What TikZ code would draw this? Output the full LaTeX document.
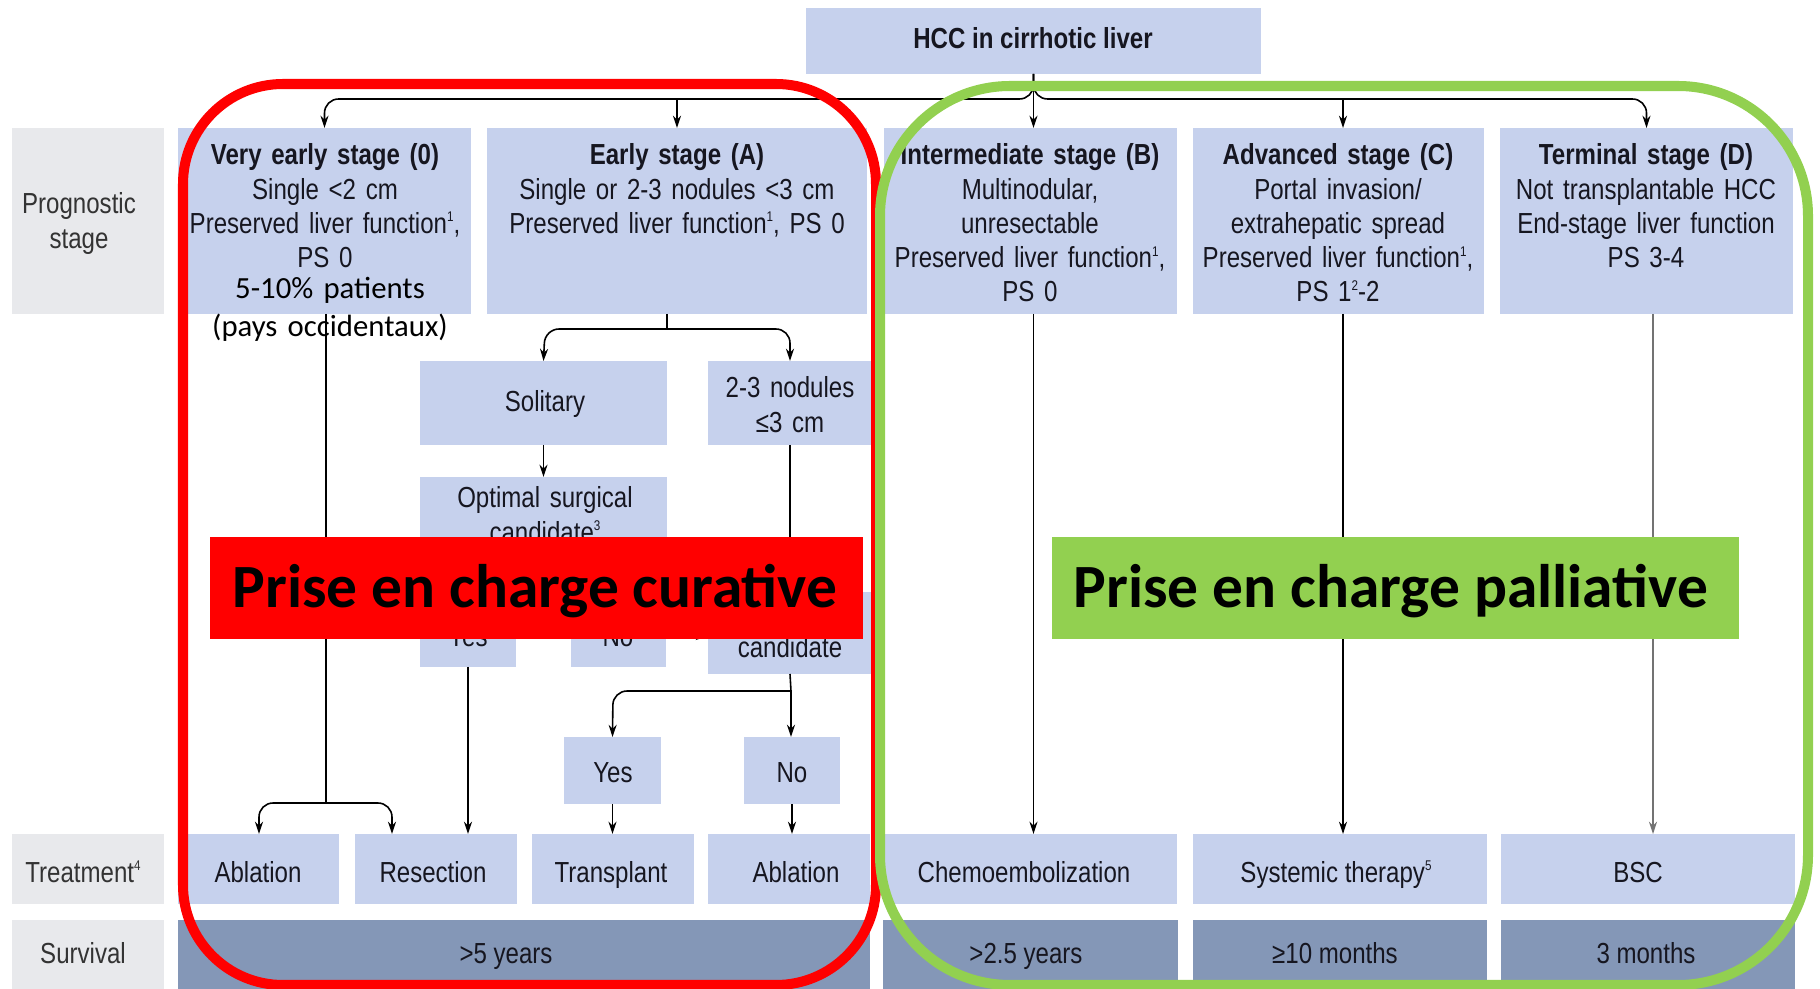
\documentclass[tikz,border=0pt]{standalone}
\usepackage{fontspec}
\setmainfont{Liberation Sans}[FakeStretch=0.83]
\newfontfamily\calib{Carlito}
\usetikzlibrary{arrows.meta,fit,calc}
\definecolor{lbfill}{RGB}{198,209,237}
\definecolor{svfill}{RGB}{132,151,183}
\definecolor{gyfill}{RGB}{232,233,236}
\definecolor{grn}{RGB}{146,208,80}
\definecolor{txtc}{RGB}{22,22,32}
\newcommand\fsA{\fontsize{16.5}{19.45}\selectfont}
\newcommand\sups[1]{\raisebox{0.75ex}{\fontsize{8}{8}\selectfont #1}}
\begin{document}
\begin{tikzpicture}[x=0.02cm,y=-0.02cm,
  lb/.style={fill=lbfill,inner sep=0pt,outer sep=0pt},
  sv/.style={fill=svfill,inner sep=0pt,outer sep=0pt},
  gy/.style={fill=gyfill,inner sep=0pt,outer sep=0pt},
  tx/.style={inner sep=0pt,outer sep=0pt,font=\fsA,text=txtc,align=center,anchor=base},
  ml/.style={tx,text width=9cm},
  gtx/.style={tx,text=black!80},
  ln/.style={draw=black,line width=0.9pt},
  arr/.style={ln,-{Stealth[length=7pt,width=4.6pt]}},
  rc/.style={rounded corners=8pt},
  bigtx/.style={inner sep=0pt,outer sep=0pt,font=\calib\bfseries\fontsize{35}{40}\selectfont,anchor=base,text=black},
  zone/.style={inner sep=0pt,outer sep=0pt,line width=5.7pt},
]
\fill[white] (0,0) rectangle (1820,989);
\useasboundingbox (0,0) rectangle (1820,989);

% ---------- left column ----------
\node[gy,fit={(12,128) (164,314)}] (gprog) {};
\node[gy,fit={(12,834) (164,904)}] (gtreat) {};
\node[gy,fit={(12,920) (164,989)}] (gsurv) {};
\node[gtx,text width=3cm] (tprog) at (79,214) {Prognostic\\stage};
\node[gtx] (ttreat) at (83,882) {Treatment\sups{4}};
\node[gtx] (tsurv) at (83,963) {Survival};

% ---------- top ----------
\node[lb,fit={(806,8) (1261,74)}] (hcc) {};
\node[tx] (thcc) at (1033,49) {\textbf{HCC in cirrhotic liver}};

% ---------- stage boxes ----------
\node[lb,fit={(178,128) (471,314)}] (ve) {};
\node[lb,fit={(487,128) (867,314)}] (ea) {};
\node[lb,fit={(884,128) (1177,314)}] (im) {};
\node[lb,fit={(1193,128) (1484,314)}] (ad) {};
\node[lb,fit={(1500,128) (1793,314)}] (te) {};

% ---------- sub boxes ----------
\node[lb,fit={(420,361) (667,445)}] (sol) {};
\node[lb,fit={(708,361) (872,445)}] (nod) {};
\node[lb,fit={(420,477) (667,582)}] (opt) {};
\node[lb,fit={(420,605) (516,667)}] (yes1) {};
\node[lb,fit={(571,605) (666,667)}] (no1) {};
\node[lb,fit={(708,592) (872,674)}] (cand) {};
\node[lb,fit={(564,737) (661,804)}] (yes2) {};
\node[lb,fit={(744,737) (840,804)}] (no2) {};

% ---------- treatment ----------
\node[lb,fit={(178,834) (339,904)}] (abl1) {};
\node[lb,fit={(355,834) (517,904)}] (res) {};
\node[lb,fit={(532,834) (694,904)}] (tra) {};
\node[lb,fit={(708,834) (870,904)}] (abl2) {};
\node[lb,fit={(884,834) (1177,904)}] (che) {};
\node[lb,fit={(1193,834) (1487,904)}] (sys) {};
\node[lb,fit={(1501,834) (1795,904)}] (bsc) {};

% ---------- survival ----------
\node[sv,fit={(178,920) (870,989)}] (s1) {};
\node[sv,fit={(883,920) (1178,989)}] (s2) {};
\node[sv,fit={(1193,920) (1487,989)}] (s3) {};
\node[sv,fit={(1501,920) (1795,989)}] (s4) {};

% ---------- helper coordinates ----------
\coordinate (bus) at (0,99);
\coordinate (xve) at (326,0);
\coordinate (xab1) at (259,0);
\coordinate (xres) at (392,0);
\coordinate (xea) at (667,0);
\coordinate (xte) at (1653,0);
\coordinate (xad) at (1343,0);
\coordinate (j1) at (326,803);
\coordinate (j2) at (667,329);
\coordinate (j3) at (545,592);
\coordinate (j4) at (791,691);

% ---------- connectors ----------
\draw[arr,rc] (hcc.south) -- (hcc.south |- bus) -- (bus -| ve.north) -- (ve.north);
\draw[arr,rc] (hcc.south) -- (hcc.south |- bus) -- (bus -| te.north) -- (te.north);
\draw[arr] (hcc.south) -- (hcc.south |- im.north);
\draw[arr] (bus -| ea.north) -- (ea.north);
\draw[arr] (bus -| xad) -- (ad.north -| xad);

\draw[ln] (ve.south -| xve) -- (j1);
\draw[arr,rc] (j1) -- (259,803) -- (abl1.north -| xab1);
\draw[arr,rc] (j1) -- (392,803) -- (res.north -| xres);

\draw[ln] (ea.south -| xea) -- (j2);
\draw[arr,rc] (j2) -- (545,329) -- (sol.north);
\draw[arr,rc] (j2) -- (790,329) -- (nod.north);
\draw[arr] (sol.south) -- (opt.north);
\draw[ln] (opt.south) -- (j3);
\draw[arr,rc] (j3) -- (468,592) -- (yes1.north);
\draw[arr,rc] (j3) -- (618,592) -- (no1.north);
\draw[arr] (yes1.south) -- (yes1.south |- res.north);
\draw[arr] (no1.east) -- (no1.east -| cand.west);
\draw[arr] (nod.south) -- (cand.north);
\draw[ln] (cand.south) -- (j4);
\draw[arr,rc] (j4) -- (613,691) -- (yes2.north);
\draw[arr] (j4) -- (no2.north -| j4);
\draw[arr] (yes2.south) -- (yes2.south |- tra.north);
\draw[arr] (no2.south) -- (no2.south |- abl2.north);

\draw[arr] (hcc.south |- im.south) -- (hcc.south |- che.north);
\draw[arr] (xad |- ad.south) -- (xad |- sys.north);
\draw[arr,draw=black!55] (xte |- te.south) -- (xte |- bsc.north);

% ---------- texts ----------
\node[ml] (tve) at (325,165) {\textbf{Very early stage (0)}\\Single <2 cm\\Preserved liver function\sups{1},\\PS 0};
\node[tx,font=\calib\fontsize{17.5}{21.6}\selectfont,text=black,text width=6cm] (tvep) at (330,299) {5-10\% patients\\(pays occidentaux)};
\node[ml] (tea) at (677,165) {\textbf{Early stage (A)}\\Single or 2-3 nodules <3 cm\\Preserved liver function\sups{1}, PS 0};
\node[ml] (tim) at (1030,165) {\textbf{Intermediate stage (B)}\\Multinodular,\\unresectable\\Preserved liver function\sups{1},\\PS 0};
\node[ml] (tad) at (1338,165) {\textbf{Advanced stage (C)}\\Portal invasion/\\extrahepatic spread\\Preserved liver function\sups{1},\\PS 1\sups{2}-2};
\node[ml] (tte) at (1646,165) {\textbf{Terminal stage (D)}\\Not transplantable HCC\\End-stage liver function\\PS 3-4};

\node[tx] (tsol) at (545,412) {Solitary};
\node[ml] (tnod) at (790,398) {2-3 nodules\\≤3 cm};
\node[ml] (topt) at (545,508) {Optimal surgical\\candidate\sups{3}};
\node[tx] (tyes1) at (468,647) {Yes};
\node[tx] (tno1) at (618,647) {No};
\node[tx] (tcand) at (790,658) {candidate};
\node[tx] (tyes2) at (613,783) {Yes};
\node[tx] (tno2) at (792,783) {No};

\node[tx] (tabl1) at (258,882) {Ablation};
\node[tx] (tres) at (433,882) {Resection};
\node[tx] (ttra) at (611,882) {Transplant};
\node[tx] (tabl2) at (796,882) {Ablation};
\node[tx] (tche) at (1024,882) {Chemoembolization};
\node[tx] (tsys) at (1336,882) {Systemic therapy\sups{5}};
\node[tx] (tbsc) at (1638,882) {BSC};

\node[tx] (ts1) at (506,963) {>5 years};
\node[tx] (ts2) at (1026,963) {>2.5 years};
\node[tx] (ts3) at (1335,963) {≥10 months};
\node[tx] (ts4) at (1646,963) {3 months};

% ---------- zones ----------
\node[zone,draw=red,rounded corners=2cm,fit={(183,84) (876,985)}] (curzone) {};
\node[zone,draw=grn,rounded corners=2.6cm,fit={(880,86) (1808,985)}] (palzone) {};

% ---------- banners ----------
\node[fill=red,inner sep=0pt,outer sep=0pt,fit={(210,537) (863,639)}] (curban) {};
\node[bigtx] (tcur) at (535,608) {Prise en charge curative};
\node[fill=grn,inner sep=0pt,outer sep=0pt,fit={(1052,537) (1739,639)}] (palban) {};
\node[bigtx] (tpal) at (1391,608) {Prise en charge palliative};
\end{tikzpicture}
\end{document}
